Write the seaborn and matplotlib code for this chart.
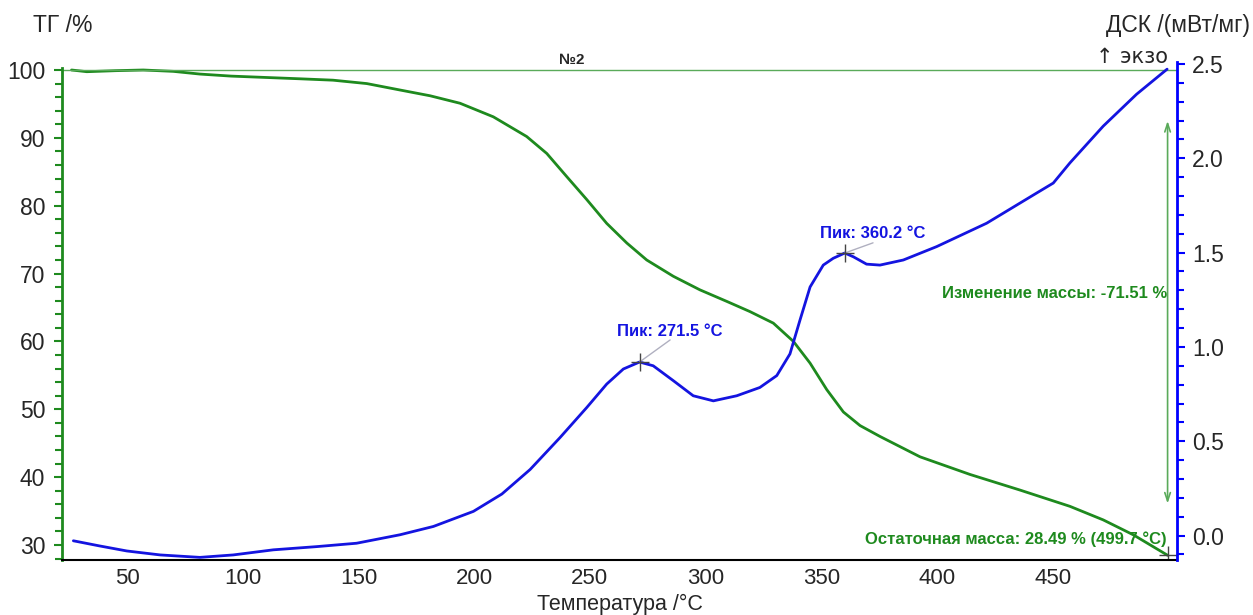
import numpy as np
import pandas as pd
import matplotlib.pyplot as plt
import seaborn as sns
from matplotlib.ticker import MultipleLocator, FixedLocator

# TG curve (mass, %)
tg_temp = [26, 32.6, 45, 57, 70, 81.5, 95, 110, 125, 139, 153.6, 168, 181, 193.9, 208.3,
           222.7, 231.4, 240, 248.7, 257.3, 266, 274.6, 286.1, 297.6, 309.2, 319.2, 329.3,
           338, 345.2, 352.4, 359.6, 366.8, 375.4, 392.7, 414.3, 435.9, 457.5, 471.9,
           484.9, 499.7]
tg_mass = [100.0, 99.75, 99.9, 100.0, 99.8, 99.4, 99.1, 98.9, 98.7, 98.5, 98.0, 97.05,
           96.2, 95.1, 93.1, 90.2, 87.7, 84.3, 80.9, 77.4, 74.5, 72.0, 69.6, 67.6, 65.9,
           64.4, 62.7, 60.0, 56.8, 52.9, 49.6, 47.6, 46.0, 43.0, 40.4, 38.1, 35.7, 33.7,
           31.5, 28.49]

# DSC curve (mW/mg)
dsc_temp = [26.8, 38, 49.9, 64.3, 81.5, 95.9, 113.2, 131.9, 149.2, 168, 182.4, 199.7,
            212, 224.2, 237.1, 248.7, 257.3, 264.5, 271.5, 277.4, 286.1, 294.7, 303.4,
            313.5, 323.5, 330.8, 336.5, 340.8, 345.2, 350.9, 355.2, 360.2, 363.9, 369.6,
            375.4, 385.5, 399.9, 421.5, 443.1, 450.3, 457.5, 471.9, 486.3, 499.5]
dsc_val = [-0.028, -0.055, -0.082, -0.103, -0.116, -0.103, -0.076, -0.059, -0.041, 0.004,
           0.048, 0.128, 0.22, 0.35, 0.519, 0.679, 0.803, 0.883, 0.92, 0.90, 0.821, 0.741,
           0.714, 0.741, 0.785, 0.848, 0.963, 1.141, 1.318, 1.434, 1.47, 1.498, 1.478,
           1.439, 1.434, 1.461, 1.532, 1.656, 1.816, 1.869, 1.976, 2.171, 2.34, 2.473]

peaks_t = [271.5, 360.2]
peaks_v = [0.92, 1.498]
mass_change = -71.51
residual = 28.49
residual_t = 499.7

tg_df = pd.DataFrame({"T": tg_temp, "TG": tg_mass})
dsc_df = pd.DataFrame({"T": dsc_temp, "DSC": dsc_val})

sns.set_style("white")
plt.rcParams['font.family'] = ['Liberation Sans', 'DejaVu Sans']

green = "#1e8a1e"
light_green = "#5aaa5a"
blue = "#1414e0"

fig = plt.figure(figsize=(12.53, 6.15), dpi=100)
ax = fig.add_axes([0.0495, 0.0894, 0.8899, 0.8098])
ax2 = ax.twinx()

sns.lineplot(data=tg_df, x="T", y="TG", ax=ax, color=green, linewidth=2)
sns.lineplot(data=dsc_df, x="T", y="DSC", ax=ax2, color=blue, linewidth=2)

ax.set_xlim(21.9, 503.8)
ax.set_ylim(27.79, 101.18)
ax2.set_ylim(-0.130, 2.511)

ax.xaxis.set_major_locator(FixedLocator([50, 100, 150, 200, 250, 300, 350, 400, 450]))
ax.xaxis.set_minor_locator(FixedLocator([75, 125, 175, 225, 275, 325, 375, 425, 475]))
ax.yaxis.set_major_locator(MultipleLocator(10))
ax.yaxis.set_minor_locator(MultipleLocator(2))
ax2.yaxis.set_major_locator(MultipleLocator(0.5))
ax2.yaxis.set_minor_locator(MultipleLocator(0.1))
ax2.yaxis.set_major_formatter(plt.FuncFormatter(lambda v, p: f"{v:.1f}"))

for a in (ax, ax2):
    a.spines["top"].set_visible(False)
ax.spines["right"].set_visible(False)
ax2.spines["left"].set_visible(False)
ax2.spines["bottom"].set_visible(False)
ax.spines["left"].set_color(green)
ax.spines["left"].set_linewidth(2)
ax.spines["left"].set_bounds(27.79, 100.3)
ax2.spines["right"].set_color("#0000ff")
ax2.spines["right"].set_linewidth(2)
ax.spines["bottom"].set_color("black")
ax.spines["bottom"].set_linewidth(1.5)

ax.tick_params(axis="y", which="both", direction="out", color=green, width=1.5,
               labelsize=16.5, pad=6)
ax.tick_params(axis="y", which="major", length=6)
ax.tick_params(axis="y", which="minor", length=5)
ax.tick_params(axis="x", which="both", direction="out", color="black", width=1.2,
               labelsize=16, pad=1.5)
ax.tick_params(axis="x", which="major", length=4)
ax.tick_params(axis="x", which="minor", length=3)
ax2.tick_params(axis="y", which="both", direction="out", color="#0000ff", width=1.5,
                labelsize=16.5, pad=5)
ax2.tick_params(axis="y", which="major", length=6)
ax2.tick_params(axis="y", which="minor", length=5)

ax.set_xlabel("")
ax.set_ylabel("")
ax2.set_ylabel("")

fig.text(0.026, 0.959, "ТГ /%", fontsize=16.5, ha="left", va="center")
fig.text(0.998, 0.959, "ДСК /(мВт/мг)", fontsize=16.5, ha="right", va="center")
fig.text(0.495, 0.0, "Температура /°C", fontsize=15.5, ha="center", va="bottom")
ax.text(499.9, 101.9, "↑ экзо", fontsize=15, ha="right", va="center",
        family=["DejaVu Sans"])

# reference line at 100 %
ax.axhline(100, color=light_green, linewidth=1)
ax.text(242.3, 101.5, "№2", fontsize=11, fontweight="bold", ha="center", va="center")

# mass change arrow
ax.annotate("", xy=(499.7, 35.7), xytext=(499.7, 92.9),
            arrowprops=dict(arrowstyle="<->,head_length=0.6,head_width=0.2",
                            color=light_green, lw=1.2))
ax.text(499.4, 67.1, f"Изменение массы: {mass_change:.2f} %", color=green,
        fontsize=12, fontweight="bold", ha="right", va="center")
ax.text(499.4, 30.9, f"Остаточная масса: {residual:.2f} % ({residual_t:.1f} °C)",
        color=green, fontsize=12, fontweight="bold", ha="right", va="center")
ax.plot([residual_t], [residual], marker="+", color="#444444", markersize=13, mew=1)

# peak labels
label_offsets = [(13.2, 0.161, 0.117), (12.2, 0.104, 0.054)]
for t, v, (dx, dy, dl) in zip(peaks_t, peaks_v, label_offsets):
    ax2.plot([t, t + dx], [v, v + dl], color="#b0b0c0", linewidth=1)
    ax2.plot([t], [v], marker="+", color="#444444", markersize=13, mew=1)
    ax2.text(t + dx, v + dy, f"Пик: {t:.1f} °C", color=blue, fontsize=12,
             fontweight="bold", ha="center", va="center")

fig.savefig("out.png", dpi=100)
